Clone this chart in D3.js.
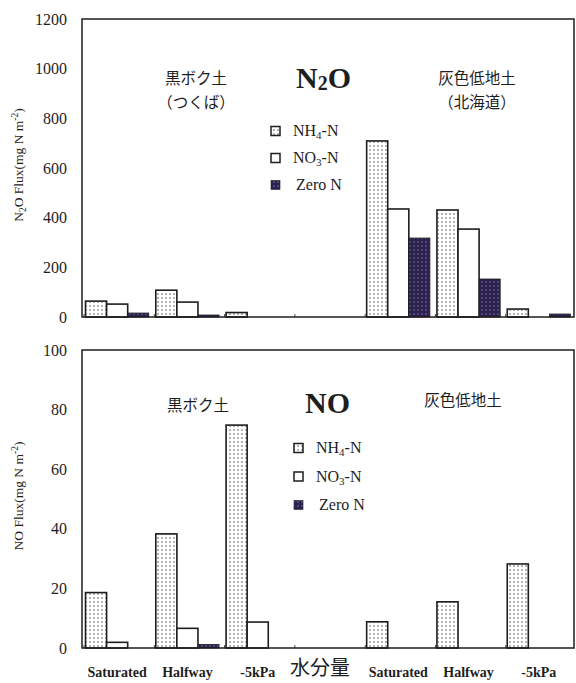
<!DOCTYPE html>
<html>
<head>
<meta charset="utf-8">
<script src="https://cdn.jsdelivr.net/npm/d3@7/dist/d3.min.js"></script>
<style>
  html, body { margin: 0; padding: 0; background: #fff; }
  svg { display: block; }
  .serif { font-family: "Liberation Serif", "DejaVu Serif", serif; }
  .cjk { font-family: "Noto Sans CJK JP", "Noto Sans CJK SC", sans-serif; }
</style>
</head>
<body>
<script>
// ---------- DATA ----------
const categories = ["Saturated", "Halfway", "-5kPa", "", "Saturated", "Halfway", "-5kPa"];
const seriesNames = ["NH4-N", "NO3-N", "Zero N"];

const n2oNH4  = [64, 108, 18, null, 709, 431, 32];
const n2oNO3  = [52, 60, 0, null, 435, 354, 0];
const n2oZero = [16, 8, 0, null, 318, 153, 12];

const noNH4  = [18.6, 38.3, 74.8, null, 8.8, 15.5, 28.2];
const noNO3  = [1.9, 6.6, 8.7, null, 0, 0, 0];
const noZero = [0, 1.2, 0, null, 0, 0, 0];

const n2oTicks = [0, 200, 400, 600, 800, 1000, 1200];
const noTicks  = [0, 20, 40, 60, 80, 100];

// ---------- SETUP ----------
const W = 576, H = 683;
const svg = d3.select("body").append("svg").attr("width", W).attr("height", H);
const ink = "#1e1e1e";
const dark = "#2c2150";

const defs = svg.append("defs");
const pDots = defs.append("pattern").attr("id", "dots").attr("patternUnits", "userSpaceOnUse")
  .attr("width", 4).attr("height", 4);
pDots.append("rect").attr("width", 4).attr("height", 4).attr("fill", "#fff");
pDots.append("circle").attr("cx", 2).attr("cy", 2).attr("r", 0.7).attr("fill", "#333");

const pDark = defs.append("pattern").attr("id", "darkdots").attr("patternUnits", "userSpaceOnUse")
  .attr("width", 4).attr("height", 4);
pDark.append("rect").attr("width", 4).attr("height", 4).attr("fill", dark);
pDark.append("circle").attr("cx", 2).attr("cy", 2).attr("r", 0.7).attr("fill", "#8f8aa8");

const fills = ["url(#dots)", "#fff", "url(#darkdots)"];

const x = d3.scaleBand().domain(d3.range(categories.length)).range([82, 574])
  .paddingInner(0.1).paddingOuter(0.05);
const xs = d3.scaleBand().domain(d3.range(seriesNames.length)).range([0, x.bandwidth()]);

function panel(cfg) {
  const g = svg.append("g");
  const y = d3.scaleLinear().domain([0, cfg.max]).range([cfg.y1, cfg.y0]);

  // bars
  cfg.series.forEach((vals, si) => {
    g.selectAll(null).data(vals.map((v, i) => ({ v, i })).filter(d => d.v))
      .enter().append("rect")
      .attr("x", d => x(d.i) + xs(si))
      .attr("y", d => y(d.v))
      .attr("width", xs.bandwidth())
      .attr("height", d => y(0) - y(d.v))
      .attr("fill", fills[si])
      .attr("stroke", ink)
      .attr("stroke-width", si === 2 ? 0.8 : 1.6);
  });

  // frame
  g.append("rect").attr("x", 82).attr("y", cfg.y0).attr("width", 574 - 82).attr("height", cfg.y1 - cfg.y0)
    .attr("fill", "none").attr("stroke", ink).attr("stroke-width", 1.5);

  // small upward ticks at group starts
  g.selectAll(null).data(d3.range(categories.length)).enter().append("line")
    .attr("x1", i => x(i) - 1.5).attr("x2", i => x(i) - 1.5)
    .attr("y1", cfg.y1).attr("y2", cfg.y1 - 3)
    .attr("stroke", ink).attr("stroke-width", 0.8);

  // y axis
  const ax = g.append("g").attr("transform", "translate(82,0)")
    .call(d3.axisLeft(y).tickValues(cfg.ticks).tickSize(0).tickPadding(15).tickFormat(d3.format("d")));
  ax.attr("font-family", null).attr("font-size", null);
  ax.select(".domain").remove();
  ax.selectAll("text").attr("class", "serif").style("font-size", "16px").attr("fill", ink);

  // y title
  const t = g.append("text").attr("class", "serif")
    .attr("transform", `translate(23,${(cfg.y0 + cfg.y1) / 2 - 3}) rotate(-90)`)
    .attr("text-anchor", "middle").style("font-size", "13.5px").attr("fill", ink);
  cfg.ytitle.forEach(p => {
    const ts = t.append("tspan").text(p.t);
    if (p.sub) ts.style("font-size", "9.5px").attr("dy", 3);
    if (p.sup) ts.style("font-size", "9.5px").attr("dy", -5);
    if (p.reset) ts.attr("dy", p.reset);
  });

  // soil labels
  cfg.labels.forEach(l => {
    g.append("text").attr("class", "cjk").attr("x", l.x).attr("y", l.y).attr("text-anchor", "middle")
      .style("font-size", "15.5px").attr("fill", ink).text(l.t);
  });

  // big gas title
  const bt = g.append("text").attr("class", "serif").attr("x", cfg.title.x).attr("y", cfg.title.y)
    .style("font-weight", "bold").style("font-size", "30px").attr("fill", ink);
  cfg.title.parts.forEach(p => {
    const ts = bt.append("tspan").text(p.t);
    if (p.sub) ts.style("font-size", "20px").attr("dy", 2);
    if (p.reset) ts.attr("dy", -2);
  });

  // legend
  const lg = g.append("g");
  const labelParts = [
    [{ t: "NH" }, { t: "4", sub: true }, { t: "-N", reset: true }],
    [{ t: "NO" }, { t: "3", sub: true }, { t: "-N", reset: true }],
    [{ t: "Zero N" }]
  ];
  seriesNames.forEach((s, si) => {
    const yy = cfg.legend.y + si * cfg.legend.dy;
    lg.append("rect").attr("x", cfg.legend.x).attr("y", yy - 4.5).attr("width", 9).attr("height", 9)
      .attr("fill", fills[si]).attr("stroke", ink).attr("stroke-width", si === 2 ? 0.6 : 1.5);
    const tx = lg.append("text").attr("class", "serif")
      .attr("x", cfg.legend.x + 22 + (si === 2 ? 3 : 0)).attr("y", yy + 5)
      .style("font-size", "16px").attr("fill", ink);
    labelParts[si].forEach(p => {
      const ts = tx.append("tspan").text(p.t);
      if (p.sub) ts.style("font-size", "11px").attr("dy", 3);
      if (p.reset) ts.attr("dy", -3);
    });
  });
  return y;
}

panel({
  y0: 19, y1: 317, max: 1200, ticks: n2oTicks,
  series: [n2oNH4, n2oNO3, n2oZero],
  ytitle: [{ t: "N" }, { t: "2", sub: true }, { t: "O Flux(mg N m", reset: -3 }, { t: "-2", sup: true }, { t: ")", reset: 5 }],
  labels: [
    { x: 196, y: 84, t: "黒ボク土" }, { x: 196, y: 108, t: "（つくば）" },
    { x: 477, y: 84, t: "灰色低地土" }, { x: 477, y: 108, t: "（北海道）" }
  ],
  title: { x: 296, y: 88, parts: [{ t: "N" }, { t: "2", sub: true }, { t: "O", reset: true }] },
  legend: { x: 271, y: 131, dy: 27 }
});

panel({
  y0: 350, y1: 648, max: 100, ticks: noTicks,
  series: [noNH4, noNO3, noZero],
  ytitle: [{ t: "NO Flux(mg N m" }, { t: "-2", sup: true }, { t: ")", reset: 5 }],
  labels: [
    { x: 198, y: 411, t: "黒ボク土" },
    { x: 463, y: 406, t: "灰色低地土" }
  ],
  title: { x: 305, y: 413, parts: [{ t: "NO" }] },
  legend: { x: 294, y: 448, dy: 28.5 }
});

// x axis labels
const xa = svg.append("g").attr("transform", "translate(0,664)")
  .call(d3.axisBottom(x).tickSize(0).tickPadding(0).tickFormat(i => categories[i]));
xa.attr("font-family", null).attr("font-size", null);
xa.select(".domain").remove();
xa.selectAll("text").attr("class", "serif").style("font-weight", "bold")
  .style("font-size", "14px").attr("fill", ink).attr("dy", "0.71em").attr("y", 3);

svg.append("text").attr("class", "cjk").attr("x", 320).attr("y", 675).attr("text-anchor", "middle")
  .style("font-size", "20px").attr("fill", ink).text("水分量");
</script>
</body>
</html>
